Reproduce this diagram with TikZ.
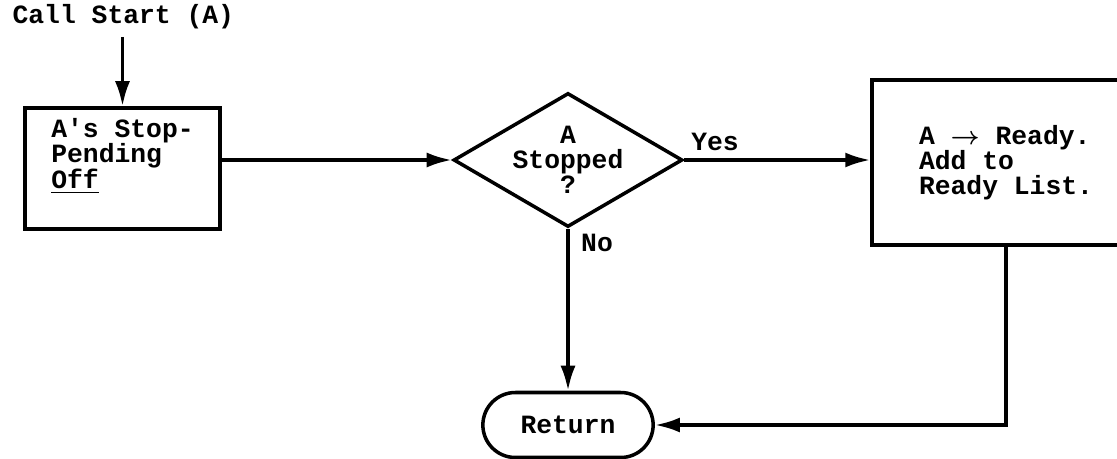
\documentclass[tikz,border=0pt]{standalone}
\usepackage{amsmath}
\usepackage{fontspec}
\setmonofont{Liberation Mono}
\usepackage{tikz}
\usetikzlibrary{calc}
\usetikzlibrary{shapes.geometric,shapes.misc,arrows.meta,positioning}

\begin{document}
\begin{tikzpicture}[-{Latex[length=5mm,width=3mm]},auto,node distance=1cm,
                    line width=2pt,
                    flow text/.style={font=\ttfamily\bfseries\fontsize{15}{14.2}\selectfont},
                    proc node/.style={rectangle,draw,flow text,align=left},
                    test node/.style={diamond,draw,flow text,align=center,inner sep=0pt,aspect=1.71,minimum width=4.58cm,minimum height=2.68cm},
                    end node/.style={rounded rectangle,draw,flow text,minimum width=3.64cm,minimum height=1.3cm}]
 \useasboundingbox (0,0) rectangle (22.34,-9.18);

%Entry point
  \node[flow text,anchor=west] (start) at (0.1,-0.34) {Call Start (A)};

%Boxes and test
  \node[proc node,minimum width=3.9cm,minimum height=2.42cm] (pending) at (2.45,-3.37)
       {A's Stop-\\Pending\\\underline{Off}\rule[-0.6cm]{0pt}{0pt}};
  \node[test node] (test) at (11.36,-3.2) {A\\Stopped\\?};
  \node[proc node,minimum width=5.36cm,minimum height=3.3cm] (ready) at (20.12,-3.25)
       {A $\boldsymbol{\rightarrow}$ Ready.\\Add to\\Ready List.};
  \node[end node] (ret) at (11.36,-8.5) {Return};

%Branch labels
  \node[flow text] (yes) at (14.3,-2.84) {Yes};
  \node[flow text] (no) at (11.94,-4.86) {No};

%Connectors
  \draw (start.south -| pending.north) -- (pending.north);
  \draw (test.west -| pending.east) -- (test.west);
  \draw (test.east) -- (test.east -| ready.west);
  \draw (test.south) -- (ret.north);
  \draw (ready.south) |- (ret.east);

\end{tikzpicture}
\end{document}
